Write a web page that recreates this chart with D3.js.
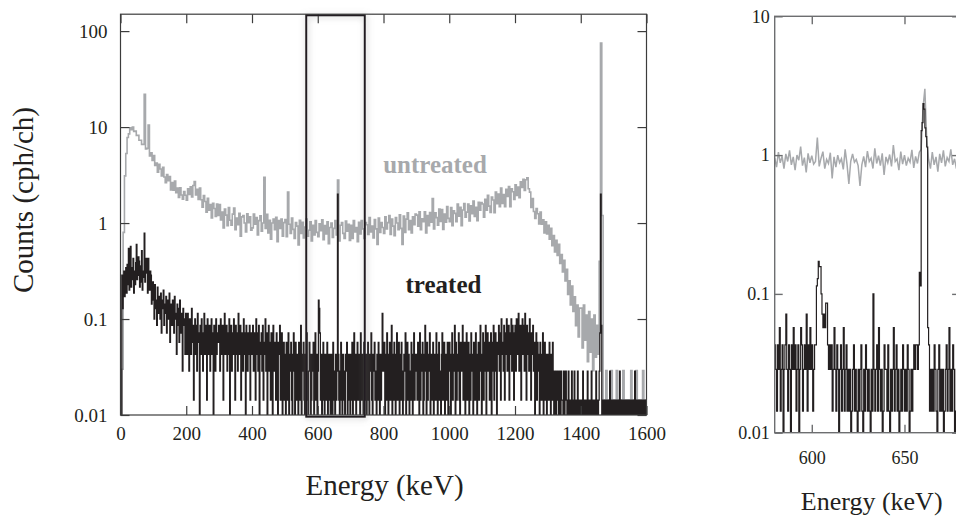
<!DOCTYPE html>
<html>
<head>
<meta charset="utf-8">
<script src="https://cdn.jsdelivr.net/npm/d3@7"></script>
<style>
  body { margin: 0; background: #fff; overflow: hidden; }
  svg { display: block; }
  svg text { font-family: "Liberation Serif", "DejaVu Serif", serif; }
</style>
</head>
<body>
<div id="chart"></div>
<script>
// ---- data ----
// left panel, untreated: 4 keV bins from 0 keV, in cph/ch
const untreatedLeftStart = 0, untreatedLeftStep = 4;
const untreatedLeft = [
  // 0-96
  0, 0.03, 0.8, 3.1, 5.3, 7.8, 8.5, 9.8, 9.4, 10.0, 9.0, 9.1, 8.2, 8.2, 7.3, 7.3, 6.6, 6.6, 22, 5.9, 6.0, 10.5, 5.0, 5.4, 4.5,
  // 100-196
  5.04, 3.99, 4.22, 3.38, 4.1, 3.66, 3.09, 3.8, 3.02, 2.64, 3.2, 2.76, 3.06, 2.21, 2.65, 2.2, 2.74, 2.07, 2.31, 1.85, 2.33, 1.96, 1.77, 2.13, 1.95,
  // 200-296
  1.73, 2.27, 1.99, 2.39, 1.87, 2.46, 2.7, 1.96, 2.25, 1.76, 2.32, 1.75, 1.46, 1.93, 1.68, 1.3, 1.81, 1.36, 1.56, 1.13, 1.61, 1.42, 1.17, 1.58, 1.2,
  // 300-396
  1.56, 1.08, 1.3, 0.89, 1.4, 1.21, 0.94, 1.45, 1.07, 0.95, 1.24, 1.43, 0.85, 1.13, 0.96, 1.26, 0.73, 1.16, 1.2, 1.0, 0.81, 1.25, 1.01, 1.16, 0.84,
  // 400-496
  0.89, 1.24, 0.97, 1.14, 0.75, 1.06, 1.19, 0.82, 1.0, 3.0, 0.88, 1.23, 0.79, 1.07, 0.68, 1.0, 1.1, 0.85, 1.15, 0.64, 1.06, 0.88, 1.1, 0.73, 1.01,
  // 500-596
  1.09, 0.72, 2.1, 0.97, 0.78, 1.13, 0.86, 0.69, 1.01, 0.93, 0.59, 1.07, 0.78, 1.02, 0.7, 0.91, 1.1, 0.73, 0.84, 1.03, 0.65, 0.95, 0.75, 1.06, 0.8,
  // 600-696
  0.72, 0.98, 0.83, 1.08, 0.67, 0.94, 0.77, 1.03, 0.61, 0.9, 1.0, 0.71, 0.88, 1.06, 0.75, 2.8, 0.65, 0.95, 1.01, 0.78, 0.69, 1.05, 0.82, 0.97, 0.66,
  // 700-796
  0.95, 0.69, 1.06, 0.81, 0.9, 0.64, 1.02, 0.77, 1.06, 0.87, 0.69, 1.01, 0.96, 0.76, 1.14, 0.81, 0.93, 0.7, 1.09, 0.87, 0.6, 1.13, 0.8, 1.01, 0.9,
  // 800-896
  0.78, 1.16, 0.87, 1.01, 1.2, 0.76, 1.1, 0.93, 0.74, 1.14, 1.0, 0.85, 1.22, 0.88, 0.6, 1.18, 0.8, 1.1, 1.28, 0.85, 1.06, 0.79, 1.16, 0.96, 1.24,
  // 900-996
  1.21, 0.93, 1.31, 0.85, 1.11, 1.03, 1.31, 0.79, 1.2, 0.94, 1.29, 1.02, 1.8, 0.87, 1.28, 1.14, 0.95, 1.4, 1.04, 1.38, 0.86, 1.24, 1.02, 1.49, 1.12,
  // 1000-1096
  1.03, 1.45, 0.94, 1.34, 1.26, 1.03, 1.58, 1.18, 1.46, 0.94, 1.37, 1.6, 1.15, 1.3, 1.58, 1.05, 1.51, 1.25, 1.7, 1.17, 1.46, 1.06, 1.65, 1.36, 1.64,
  // 1100-1196
  1.58, 1.15, 1.77, 1.36, 1.95, 1.5, 1.29, 1.87, 1.74, 1.28, 2.1, 1.59, 2.01, 1.48, 2.32, 1.6, 1.98, 1.48, 2.25, 1.89, 2.4, 1.48, 2.28, 2.12, 1.76,
  // 1200-1296
  2.5, 1.94, 2.37, 1.84, 2.69, 2.35, 2.85, 2.18, 2.83, 2.97, 2.28, 2.1, 1.45, 1.8, 1.32, 1.12, 1.42, 1.25, 0.98, 1.3, 0.97, 1.08, 0.79, 1.03, 0.77,
  // 1300-1396
  0.95, 0.68, 0.88, 0.58, 0.74, 0.5, 0.66, 0.46, 0.6, 0.38, 0.47, 0.31, 0.41, 0.25, 0.33, 0.18, 0.25, 0.14, 0.22, 0.12, 0.17, 0.085, 0.14, 0.065, 0.13,
  // 1400-1496
  0.13, 0.05, 0.14, 0.06, 0.11, 0.036, 0.12, 0.045, 0.1, 0.029, 0.11, 0.04, 0.086, 0.043, 0.4, 75, 1.2, 0.0143, 0, 0.029, 0.0143, 0, 0.0143, 0.029, 0,
  // 1500-1596
  0.0143, 0, 0.029, 0.0143, 0, 0.0143, 0, 0.029, 0.0143, 0, 0.0143, 0.0143, 0, 0.029, 0, 0.0143, 0, 0.029, 0.0143, 0, 0.0143, 0, 0.029, 0, 0.0143
];

// left panel, treated: 2 keV bins from 0 keV, raw counts per channel
const treatedLeftStart = 0, treatedLeftStep = 2;
const treatedLeftCounts = [
  // 0-98
  0, 0, 20, 9, 14, 22, 12, 17, 24, 13,   26, 16, 38, 14, 19, 40, 15, 24, 18, 30,
  13, 22, 16, 27, 42, 18, 20, 31, 28, 15,   17, 25, 36, 14, 19, 22, 55, 17, 24, 30,
  21, 13, 30, 16, 14, 22, 20, 10, 11, 17,
  // 100-198
  14, 7, 16, 9, 11, 6, 15, 8, 12, 10,   7, 13, 5, 11, 9, 14, 6, 10, 8, 12,
  5, 9, 11, 7, 13, 4, 10, 8, 6, 11,   9, 5, 12, 7, 8, 3, 10, 6, 9, 4,
  11, 7, 5, 8, 2, 9, 6, 7, 3, 8,
  // 200-298
  6, 3, 8, 4, 2, 7, 5, 3, 9, 4,   6, 1, 5, 7, 3, 6, 2, 8, 4, 5,
  0, 6, 3, 7, 4, 2, 5, 8, 3, 6,   4, 1, 7, 3, 5, 6, 2, 4, 7, 3,
  5, 0, 6, 4, 2, 7, 3, 5, 4, 6,
  // 300-398
  5, 2, 7, 4, 3, 6, 1, 5, 8, 3,   4, 6, 2, 5, 3, 7, 0, 4, 6, 2,
  5, 3, 7, 4, 1, 6, 3, 5, 2, 8,   4, 3, 6, 1, 5, 4, 2, 7, 3, 5,
  0, 6, 4, 2, 5, 3, 6, 1, 4, 5,
  // 400-498
  3, 6, 2, 5, 4, 1, 7, 3, 5, 2,   6, 0, 4, 3, 5, 2, 6, 1, 4, 3,
  7, 2, 5, 0, 3, 6, 2, 4, 1, 5,   3, 0, 6, 2, 4, 3, 1, 5, 2, 0,
  4, 3, 6, 1, 2, 5, 0, 3, 4, 1,
  // 500-598
  3, 0, 4, 2, 1, 5, 0, 3, 2, 4,   1, 0, 3, 5, 2, 0, 4, 1, 3, 2,
  0, 4, 2, 1, 6, 0, 3, 2, 4, 1,   0, 3, 2, 5, 1, 0, 2, 4, 3, 0,
  1, 3, 2, 4, 0, 2, 5, 1, 3, 0,
  // 600-698
  2, 11, 9, 5, 1, 3, 0, 2, 4, 1,   0, 3, 2, 1, 4, 0, 2, 3, 1, 0,
  3, 2, 0, 4, 1, 2, 0, 3, 1, 2,   140, 3, 1, 0, 2, 4, 1, 0, 3, 2,
  1, 0, 3, 2, 4, 0, 1, 3, 2, 0,
  // 700-798
  3, 1, 4, 0, 2, 5, 1, 3, 0, 2,   4, 1, 3, 2, 0, 5, 1, 3, 2, 0,
  4, 2, 1, 3, 0, 2, 4, 1, 0, 3,   2, 5, 1, 0, 3, 2, 4, 1, 2, 0,
  3, 1, 4, 2, 0, 3, 1, 2, 8, 3,
  // 800-898
  2, 4, 0, 3, 1, 5, 2, 0, 3, 4,   1, 2, 6, 0, 3, 1, 4, 2, 0, 3,
  5, 1, 2, 4, 0, 3, 1, 4, 2, 0,   1, 3, 2, 5, 0, 2, 4, 1, 3, 0,
  2, 1, 4, 3, 0, 2, 5, 1, 3, 2,
  // 900-998
  3, 1, 4, 2, 0, 5, 1, 3, 2, 4,   0, 1, 3, 6, 2, 0, 4, 1, 3, 2,
  5, 0, 2, 3, 1, 4, 0, 2, 3, 1,   5, 2, 0, 3, 4, 1, 2, 0, 3, 5,
  1, 2, 4, 0, 3, 2, 1, 4, 0, 3,
  // 1000-1098
  4, 2, 0, 3, 5, 1, 3, 2, 6, 0,   4, 1, 3, 2, 5, 1, 0, 4, 2, 3,
  6, 1, 2, 4, 0, 3, 5, 1, 2, 4,   0, 3, 1, 5, 2, 3, 0, 4, 2, 1,
  5, 3, 0, 2, 4, 1, 3, 6, 2, 0,
  // 1100-1198
  3, 5, 1, 4, 2, 6, 0, 3, 5, 2,   4, 1, 3, 5, 0, 2, 4, 6, 1, 3,
  5, 2, 0, 4, 3, 6, 2, 5, 1, 7,   3, 4, 2, 6, 1, 5, 3, 7, 2, 4,
  6, 1, 5, 3, 7, 2, 6, 4, 1, 5,
  // 1200-1298
  6, 2, 7, 3, 5, 8, 2, 4, 6, 1,   5, 7, 3, 6, 2, 8, 4, 1, 6, 3,
  5, 2, 7, 4, 1, 5, 3, 6, 2, 4,   0, 3, 5, 1, 4, 2, 3, 0, 4, 2,
  1, 3, 5, 0, 2, 4, 1, 3, 0, 2,
  // 1300-1398
  3, 1, 4, 2, 0, 3, 1, 4, 2, 0,   1, 2, 0, 1, 2, 1, 0, 2, 1, 0,
  2, 1, 1, 0, 2, 0, 1, 2, 1, 0,   1, 2, 0, 1, 1, 0, 2, 1, 0, 1,
  2, 0, 1, 0, 1, 2, 0, 1, 1, 0,
  // 1400-1498
  1, 0, 1, 2, 0, 1, 0, 1, 1, 0,   2, 1, 0, 1, 0, 1, 2, 0, 1, 0,
  1, 1, 0, 2, 0, 1, 0, 1, 2, 5,   140, 6, 0, 1, 0, 1, 0, 1, 1, 0,
  1, 0, 1, 0, 2, 0, 1, 0, 1, 0,
  // 1500-1598
  1, 0, 1, 0, 1, 1, 0, 1, 0, 2,   0, 1, 0, 1, 0, 1, 1, 0, 1, 0,
  0, 1, 0, 1, 0, 1, 0, 1, 1, 0,   1, 0, 2, 0, 1, 0, 1, 0, 0, 1,
  0, 1, 1, 0, 1, 0, 1, 0, 1, 0
];

// right panel, untreated: 1 keV points from 580 keV, cph/ch
const untreatedRightStart = 580, untreatedRightStep = 1;
const untreatedRight = [
  0.95, 0.82, 1.05, 0.88, 0.98, 0.8, 1.02, 0.9, 1.08, 0.85,
  0.97, 0.78, 1.0, 0.92, 1.15, 0.84, 0.96, 0.75, 1.03, 0.88,
  0.99, 0.86, 0.9, 1.34, 0.83, 0.95, 1.06, 0.8, 0.93, 0.87,
  1.04, 0.68, 0.97, 0.82, 1.0, 0.88, 0.94, 0.79, 1.1, 0.86,
  0.62, 0.9, 1.02, 0.89, 0.93, 0.84, 0.6, 0.85, 0.98, 0.82,
  1.07, 0.9, 0.95, 0.8, 1.12, 0.87, 0.99, 0.84, 1.03, 0.72,
  0.97, 0.88, 1.01, 0.83, 1.18, 0.9, 0.94, 0.78, 1.06, 0.86,
  1.0, 0.84, 0.95, 0.89, 1.09, 0.81, 0.98, 0.87, 1.05, 1.1,
  2.2, 3.0, 1.3, 0.93, 0.8, 1.05, 0.85, 0.97, 0.76, 1.02,
  0.88, 1.08, 0.83, 0.96, 0.9, 1.1, 0.85, 0.94, 0.8, 1.0, 0.9
];
// right panel, treated: 0.5 keV bins from 580 keV, raw counts
const treatedRightStart = 580, treatedRightStep = 0.5;
const treatedRightCounts = [
  3, 2, 1, 3, 2, 4, 1, 2, 3, 0, 2, 3, 5, 2, 1, 3, 2, 0, 3, 2,          // 580
  4, 2, 3, 1, 2, 3, 0, 2, 4, 3, 1, 2, 3, 2, 5, 1, 3, 2, 4, 2,          // 590
  3, 1, 2, 3, 3, 8, 9, 12, 11, 11, 7, 5, 4, 5, 4, 6, 6, 3, 2, 3,       // 600
  2, 3, 1, 2, 4, 2, 1, 3, 2, 0, 2, 3, 1, 2, 4, 1, 2, 3, 1, 2,          // 610
  1, 2, 0, 1, 2, 3, 1, 2, 1, 0, 2, 1, 2, 3, 1, 0, 2, 1, 3, 2,          // 620
  1, 2, 1, 0, 2, 1, 7, 2, 1, 2, 3, 1, 4, 2, 1, 2, 0, 1, 3, 2,          // 630
  2, 1, 3, 1, 0, 2, 1, 2, 4, 1, 2, 3, 1, 2, 0, 1, 2, 1, 3, 2,          // 640
  1, 2, 1, 3, 2, 0, 1, 2, 1, 2, 3, 2, 3, 3, 2, 3, 10, 8, 105, 120,     // 650
  164, 150, 110, 95, 80, 4, 3, 1, 2, 1, 2, 1, 3, 2, 1, 0, 2, 3, 1, 2,  // 660
  1, 2, 0, 1, 2, 3, 1, 2, 4, 1, 2, 1, 3, 2, 0, 1, 2, 3, 1, 2           // 670
];

const countQuantum = 0.0143;   // one count in ~70 h, in cph/ch
const zeroFloor = 0.005;       // zero-count channels drop off the log axis

const leftXTicks = [0, 200, 400, 600, 800, 1000, 1200, 1400, 1600];
const leftYTicks = [0.01, 0.1, 1, 10, 100];
const rightXTicks = [600, 650];
const rightYTicks = [0.01, 0.1, 1, 10];
const zoomBoxEnergy = [565, 743];
const zoomBoxCounts = [0.0096, 146];

const ink = "#231f20", grey = "#a7a9ac";
const serif = '"Liberation Serif", "DejaVu Serif", serif';

// ---- drawing ----
let svg = d3.select("#chart").append("svg")
    .attr("width", 956)
    .attr("height", 519)
    .attr("font-family", serif);

let defs = svg.append("defs");
let shadow = defs.append("filter").attr("id", "boxShadow")
    .attr("x", "-50%").attr("y", "-10%").attr("width", "200%").attr("height", "120%");
shadow.append("feDropShadow")
    .attr("dx", 1).attr("dy", 1).attr("stdDeviation", 3)
    .attr("flood-color", "#888").attr("flood-opacity", 0.55);

function toPoints(start, step, values) {
  let pts = values.map((v, i) => ({e: start + i * step, v: v}));
  pts.push({e: start + values.length * step, v: values[values.length - 1]});
  return pts;
}
function floorVal(v) { return v > 0 ? v : zeroFloor; }

function drawPanel(cfg) {
  let x = d3.scaleLinear().domain(cfg.xDomain).range(cfg.xRange);
  let y = d3.scaleLog().domain(cfg.yDomain).range(cfg.yRange);
  let [x0, x1] = cfg.xRange, [y0, y1] = cfg.yRange;

  let g = svg.append("g");
  defs.append("clipPath").attr("id", cfg.id + "Clip")
    .append("rect").attr("x", x0).attr("y", y1).attr("width", x1 - x0).attr("height", y0 - y1);

  let data = g.append("g").attr("clip-path", `url(#${cfg.id}Clip)`);

  data.append("path")
      .datum(cfg.untreated)
      .attr("fill", "none")
      .attr("stroke", grey)
      .attr("stroke-width", cfg.greyWidth)
      .attr("d", d3.line().curve(cfg.greyCurve)
        .x(d => x(d.e)).y(d => y(floorVal(d.v))));

  data.append("path")
      .datum(cfg.treated)
      .attr("fill", "none")
      .attr("stroke", ink)
      .attr("stroke-width", cfg.blackWidth)
      .attr("d", d3.line().curve(d3.curveStepAfter)
        .x(d => x(d.e)).y(d => y(floorVal(d.v))));

  // frame
  g.append("rect")
      .attr("x", x0).attr("y", y1)
      .attr("width", x1 - x0).attr("height", y0 - y1)
      .attr("fill", "none")
      .attr("stroke", cfg.axisColor)
      .attr("stroke-width", cfg.axisWidth);

  let fmt = d => String(d);
  let axes = [
    {a: d3.axisBottom(x).tickValues(cfg.xTicks).tickFormat(fmt).tickPadding(cfg.xPad), t: `translate(0,${y0})`},
    {a: d3.axisTop(x).tickValues(cfg.xTicks).tickFormat(""), t: `translate(0,${y1})`},
    {a: d3.axisLeft(y).tickValues(cfg.yTicks).tickFormat(fmt).tickPadding(cfg.yPad), t: `translate(${x0},0)`},
    {a: d3.axisRight(y).tickValues(cfg.yTicks).tickFormat(""), t: `translate(${x1},0)`}
  ];
  axes.forEach(ax => {
    let ag = g.append("g").attr("transform", ax.t)
        .call(ax.a.tickSizeInner(-cfg.tickLen).tickSizeOuter(0))
        .attr("font-family", serif)
        .attr("font-size", cfg.tickFont);
    ag.select(".domain").remove();
    ag.selectAll(".tick line").attr("stroke", cfg.axisColor).attr("stroke-width", cfg.axisWidth);
    ag.selectAll(".tick text").attr("fill", ink);
  });

  g.append("text")
      .attr("x", cfg.xTitleX)
      .attr("y", cfg.xTitleY)
      .attr("text-anchor", "middle")
      .attr("fill", ink)
      .style("font-size", cfg.titleFont + "px")
      .text("Energy (keV)");

  return {x: x, y: y, g: g};
}

let left = drawPanel({
  id: "left",
  xDomain: [0, 1600], xRange: [120.5, 646.5],
  yDomain: [0.01, 150], yRange: [415, 14.2],
  untreated: toPoints(untreatedLeftStart, untreatedLeftStep, untreatedLeft),
  treated: toPoints(treatedLeftStart, treatedLeftStep, treatedLeftCounts.map(c => c * countQuantum)),
  greyCurve: d3.curveStepAfter, greyWidth: 1.6, blackWidth: 1.3,
  xTicks: leftXTicks, yTicks: leftYTicks,
  axisColor: "#3c3c3c", axisWidth: 1.2, tickLen: 9,
  xPad: 12, yPad: 13, tickFont: 19,
  titleFont: 29, xTitleY: 495, xTitleX: 384.5
});

let right = drawPanel({
  id: "right",
  xDomain: [580, 680], xRange: [774.7, 960.1],
  yDomain: [0.01, 10], yRange: [432.7, 16.3],
  untreated: toPoints(untreatedRightStart, untreatedRightStep, untreatedRight).slice(0, untreatedRight.length),
  treated: toPoints(treatedRightStart, treatedRightStep, treatedRightCounts.map(c => c * countQuantum)),
  greyCurve: d3.curveLinear, greyWidth: 1.5, blackWidth: 1.2,
  xTicks: rightXTicks, yTicks: rightYTicks,
  axisColor: "#6d6e70", axisWidth: 1.4, tickLen: 8,
  xPad: 19, yPad: 5, tickFont: 18,
  titleFont: 26, xTitleY: 510, xTitleX: 871.7
});

// zoom box over the 662 keV region
left.g.append("rect")
    .attr("x", left.x(zoomBoxEnergy[0]))
    .attr("y", left.y(zoomBoxCounts[1]))
    .attr("width", left.x(zoomBoxEnergy[1]) - left.x(zoomBoxEnergy[0]))
    .attr("height", left.y(zoomBoxCounts[0]) - left.y(zoomBoxCounts[1]))
    .attr("fill", "none")
    .attr("stroke", ink)
    .attr("stroke-width", 2)
    .attr("filter", "url(#boxShadow)");

// series labels
left.g.append("text")
    .attr("x", 435).attr("y", 173)
    .attr("text-anchor", "middle")
    .attr("fill", grey)
    .style("font-size", "25px").style("font-weight", "bold")
    .text("untreated");

left.g.append("text")
    .attr("x", 443.5).attr("y", 293)
    .attr("text-anchor", "middle")
    .attr("fill", ink)
    .style("font-size", "25px").style("font-weight", "bold")
    .text("treated");

svg.append("text")
    .attr("transform", "translate(33,200) rotate(-90)")
    .attr("text-anchor", "middle")
    .attr("fill", ink)
    .style("font-size", "29px")
    .text("Counts (cph/ch)");
</script>
</body>
</html>
